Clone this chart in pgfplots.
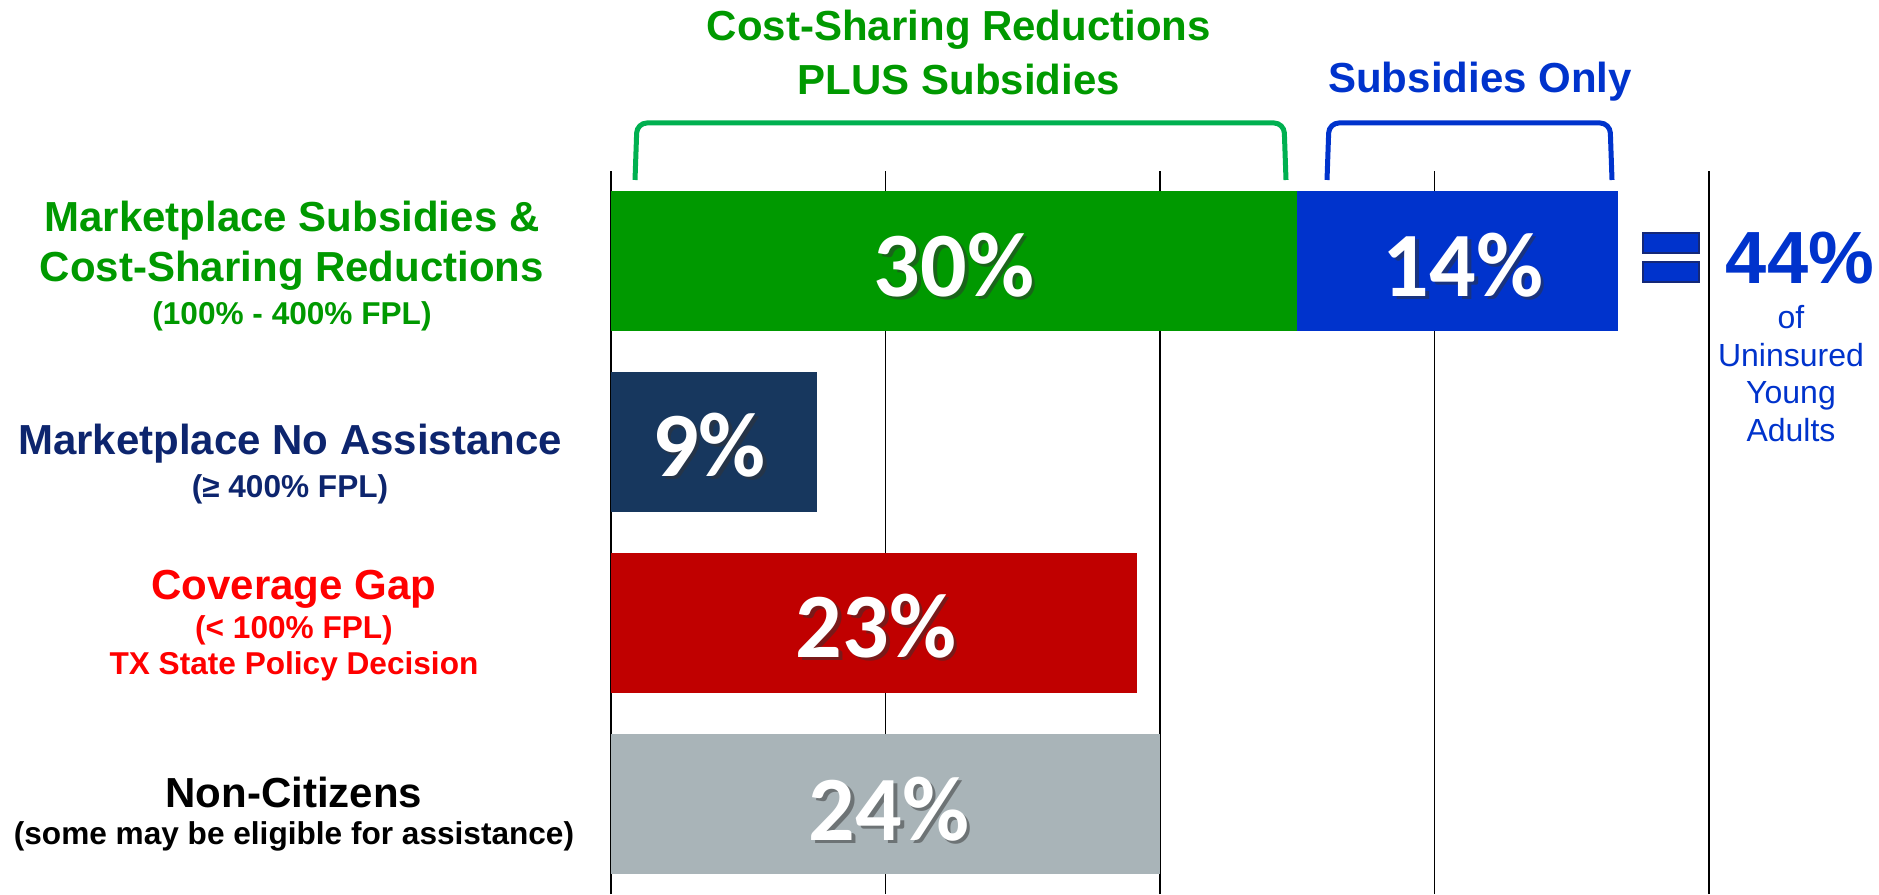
\documentclass[border=0pt]{standalone}
\usepackage{pgfplots}
\pgfplotsset{compat=1.18}
\usepackage{fontspec}
\setmainfont{Liberation Sans}
\newfontfamily\carlito{Carlito}
\definecolor{cgreen}{RGB}{0,153,0}
\definecolor{cblue}{RGB}{0,51,204}
\definecolor{cnavy}{RGB}{23,55,94}
\definecolor{cred}{RGB}{192,0,0}
\definecolor{cgray}{RGB}{169,180,184}
\definecolor{bgreen}{RGB}{0,176,80}
\definecolor{tnavy}{RGB}{13,37,110}
\definecolor{tred}{RGB}{255,0,0}
\definecolor{eqborder}{RGB}{20,40,120}
\newcommand\vlab[3]{%
  \node[font=\carlito\bfseries\fontsize{46}{46}\selectfont, text=black!80, opacity=0.5, xshift=1.8pt, yshift=-1.8pt] at (#1,#2) {#3};
  \node[font=\carlito\bfseries\fontsize{46}{46}\selectfont, text=white] at (#1,#2) {#3};}
\begin{document}
\begin{tikzpicture}
\useasboundingbox (0,0) rectangle (939.5pt,447pt);
\begin{axis}[
  at={(305.5pt,0pt)}, anchor=south west,
  scale only axis, width=549pt, height=361.5pt,
  xmin=0, xmax=48, ymin=0.5, ymax=4.5,
  xbar stacked, bar width=70pt,
  axis line style={draw=none},
  xtick={0,12,24,36,48}, xticklabels={},
  ytick=\empty,
  major tick length=0pt,
  xmajorgrids, grid style={black, line width=0.75pt},
  clip=false,
]
\addplot[fill=cgreen, draw=none] coordinates {(30,4) (0,3) (0,2) (0,1)};
\addplot[fill=cblue, draw=none] coordinates {(14,4) (0,3) (0,2) (0,1)};
\addplot[fill=cnavy, draw=none] coordinates {(0,4) (9,3) (0,2) (0,1)};
\addplot[fill=cred, draw=none] coordinates {(0,4) (0,3) (23,2) (0,1)};
\addplot[fill=cgray, draw=none] coordinates {(0,4) (0,3) (0,2) (24,1)};
\end{axis}
\begin{scope}[yshift=447pt, x=0.5pt, y=-0.5pt]
  % value labels
  \vlab{954}{265}{30\%}
  \vlab{1463}{265}{14\%}
  \vlab{709}{445}{9\%}
  \vlab{876}{626}{23\%}
  \vlab{889}{809}{24\%}
  % top titles
  \node[anchor=base, text=cgreen, font=\bfseries\fontsize{21}{25}\selectfont] at (959,41) {Cost-Sharing Reductions};
  \node[anchor=base, text=cgreen, font=\bfseries\fontsize{21}{25}\selectfont] at (959,95) {PLUS Subsidies};
  \node[anchor=base, text=cblue, font=\bfseries\fontsize{21}{25}\selectfont] at (1480,93) {Subsidies Only};
  % brackets
  \draw[bgreen, line width=2.5pt, rounded corners=5pt] (635,180) -- (637,123) -- (1284,123) -- (1286,180);
  \draw[cblue, line width=2.5pt, rounded corners=5pt] (1327,180) -- (1329,123) -- (1610,123) -- (1612,180);
  % equals sign
  \draw[fill=cblue, draw=eqborder, line width=1.2pt] (1643,233) rectangle (1699,253);
  \draw[fill=cblue, draw=eqborder, line width=1.2pt] (1643,262) rectangle (1699,282);
  \node[anchor=base, text=cblue, font=\bfseries\fontsize{37}{40}\selectfont] at (1800,284) {44\%};
  \node[anchor=base, text=cblue, font=\fontsize{16}{18}\selectfont] at (1791,329) {of};
  \node[anchor=base, text=cblue, font=\fontsize{16}{18}\selectfont] at (1791,367) {Uninsured};
  \node[anchor=base, text=cblue, font=\fontsize{16}{18}\selectfont] at (1791,404) {Young};
  \node[anchor=base, text=cblue, font=\fontsize{16}{18}\selectfont] at (1791,442) {Adults};
  % left labels
  \node[anchor=base, text=cgreen, font=\bfseries\fontsize{21}{25}\selectfont] at (292,232) {Marketplace Subsidies \&};
  \node[anchor=base, text=cgreen, font=\bfseries\fontsize{21}{25}\selectfont] at (292,282) {Cost-Sharing Reductions};
  \node[anchor=base, text=cgreen, font=\bfseries\fontsize{15.8}{18}\selectfont] at (292,325) {(100\% - 400\% FPL)};
  \node[anchor=base, text=tnavy, font=\bfseries\fontsize{21}{25}\selectfont] at (290,455) {Marketplace No Assistance};
  \node[anchor=base, text=tnavy, font=\bfseries\fontsize{15.8}{18}\selectfont] at (290,498) {(≥ 400\% FPL)};
  \node[anchor=base, text=tred, font=\bfseries\fontsize{21}{25}\selectfont] at (294,600) {Coverage Gap};
  \node[anchor=base, text=tred, font=\bfseries\fontsize{15.8}{18}\selectfont] at (294,639) {(< 100\% FPL)};
  \node[anchor=base, text=tred, font=\bfseries\fontsize{15.8}{18}\selectfont] at (294,675) {TX State Policy Decision};
  \node[anchor=base, text=black, font=\bfseries\fontsize{21}{25}\selectfont] at (294,808) {Non-Citizens};
  \node[anchor=base, text=black, font=\bfseries\fontsize{15.8}{18}\selectfont] at (294,845) {(some may be eligible for assistance)};
\end{scope}
\end{tikzpicture}
\end{document}
